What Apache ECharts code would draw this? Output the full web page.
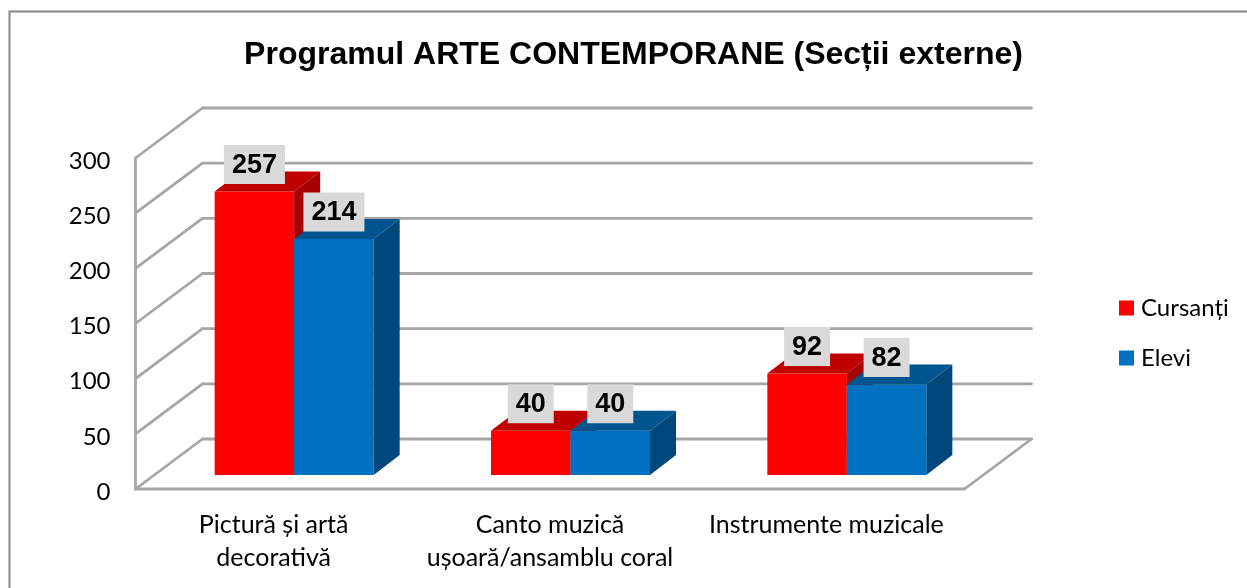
<!DOCTYPE html>
<html>
<head>
<meta charset="utf-8">
<title>Programul ARTE CONTEMPORANE</title>
<style>
  html, body { margin: 0; padding: 0; background: #fff; }
  #chart { width: 1247px; height: 588px; }
</style>
<script src="https://cdn.jsdelivr.net/npm/echarts@6/dist/echarts.min.js"></script>
</head>
<body>
<div id="chart"></div>
<script>
const categories = ['Pictură și artă\ndecorativă', 'Canto muzică\nușoară/ansamblu coral', 'Instrumente muzicale']
const cursanti = [257, 40, 92]
const elevi = [214, 40, 82]
const valueTicks = [0, 50, 100, 150, 200, 250, 300]

// how far the back wall sits behind the front plane
const depthX = 67
const depthY = -50
// bars stand inside that depth
const barNearX = 20.5
const barNearY = -14
const barDeepX = 26
const barDeepY = -20
const barWidth = 79.5

const gridColor = '#a6a6a6'
const chart = echarts.init(document.getElementById('chart'))

function line(x1, y1, x2, y2) {
  return {
    type: 'line',
    shape: { x1, y1, x2, y2 },
    style: { stroke: gridColor, lineWidth: 2.8, lineCap: 'round' }
  }
}

function poly(points, fill) {
  return { type: 'polygon', shape: { points }, style: { fill, stroke: null } }
}

function renderWall(params, api) {
  const sys = params.coordSys
  const y = api.coord([0, api.value(0)])[1]
  const left = sys.x
  const right = sys.x + sys.width
  const children = [
    line(left, y, left + depthX, y + depthY),
    line(left + depthX, y + depthY, right + depthX, y + depthY)
  ]
  if (api.value(0) === 0) {
    children.push(line(left, y, right, y))
    children.push(line(right, y, right + depthX, y + depthY))
    children.push(line(left, y, left, sys.y))
  }
  return { type: 'group', children }
}

function barRenderer(seriesIndex, front, top, side) {
  return function (params, api) {
    const val = api.value(1)
    const base = api.coord([api.value(0), 0])
    const head = api.coord([api.value(0), val])
    const x0 = base[0] + barNearX + (seriesIndex - 1) * barWidth
    const x1 = x0 + barWidth
    const yb = base[1] + barNearY
    const yt = head[1] + barNearY
    const mid = (x0 + x1) / 2
    const boxW = String(val).length * 15 + 16
    return {
      type: 'group',
      children: [
        poly([[x0, yt], [x1, yt], [x1, yb], [x0, yb]], front),
        poly([[x0, yt], [x0 + barDeepX, yt + barDeepY], [x1 + barDeepX, yt + barDeepY], [x1, yt]], top),
        poly([[x1, yt], [x1 + barDeepX, yt + barDeepY], [x1 + barDeepX, yb + barDeepY], [x1, yb]], side),
        {
          type: 'rect',
          z2: 9,
          shape: { x: mid - boxW / 2, y: yt - 46.5, width: boxW, height: 39 },
          style: { fill: '#d9d9d9' }
        },
        {
          type: 'text',
          z2: 10,
          style: {
            x: mid,
            y: yt - 26,
            text: String(val),
            align: 'center',
            verticalAlign: 'middle',
            font: 'bold 27px "Liberation Sans", Arial, sans-serif',
            fill: '#000'
          }
        }
      ]
    }
  }
}

chart.setOption({
  animation: false,
  backgroundColor: '#fff',
  title: {
    text: 'Programul ARTE CONTEMPORANE (Secții externe)',
    left: 628.5,
    top: 34,
    textAlign: 'center',
    textStyle: {
      fontFamily: '"Liberation Sans", Arial, sans-serif',
      fontWeight: 'bold',
      fontSize: 32,
      color: '#000'
    }
  },
  legend: {
    data: ['Cursanți', 'Elevi'],
    orient: 'vertical',
    left: 1119,
    top: 296,
    padding: 0,
    icon: 'rect',
    itemWidth: 15,
    itemHeight: 15,
    itemGap: 26,
    textStyle: { fontFamily: 'Lato, sans-serif', fontSize: 24, color: '#000', padding: [0, 0, 0, 2] }
  },
  grid: { left: 135.5, right: 282.5, top: 158, bottom: 99, containLabel: false },
  xAxis: {
    type: 'category',
    data: categories,
    axisLine: { show: false },
    axisTick: { show: false },
    axisLabel: {
      interval: 0,
      margin: 19,
      fontFamily: 'Lato, sans-serif',
      fontSize: 25,
      lineHeight: 33,
      color: '#000'
    }
  },
  yAxis: {
    type: 'value',
    min: 0,
    max: 300,
    interval: 50,
    splitLine: { show: false },
    axisLine: { show: false },
    axisTick: { show: false },
    axisLabel: {
      margin: 25,
      formatter: '{a|{value}}',
      rich: {
        a: { fontFamily: 'Lato, sans-serif', fontSize: 24, color: '#000', padding: [6, 0, 0, 0] }
      }
    }
  },
  graphic: [{
    type: 'rect',
    silent: true,
    shape: { x: 9.5, y: 11.5, width: 1300, height: 700 },
    style: { fill: null, stroke: '#868686', lineWidth: 2 }
  }],
  series: [
    {
      name: 'wall',
      type: 'custom',
      silent: true,
      data: valueTicks.map(v => [v]),
      encode: { y: 0 },
      renderItem: renderWall,
      z: 1
    },
    {
      name: 'Cursanți',
      type: 'custom',
      data: cursanti.map((v, i) => [i, v]),
      encode: { x: 0, y: 1 },
      itemStyle: { color: '#ff0000' },
      renderItem: barRenderer(0, '#ff0000', '#c00000', '#a60000'),
      z: 2
    },
    {
      name: 'Elevi',
      type: 'custom',
      data: elevi.map((v, i) => [i, v]),
      encode: { x: 0, y: 1 },
      itemStyle: { color: '#0070c0' },
      renderItem: barRenderer(1, '#0070c0', '#00558f', '#00487c'),
      z: 3
    }
  ]
})
</script>
</body>
</html>
